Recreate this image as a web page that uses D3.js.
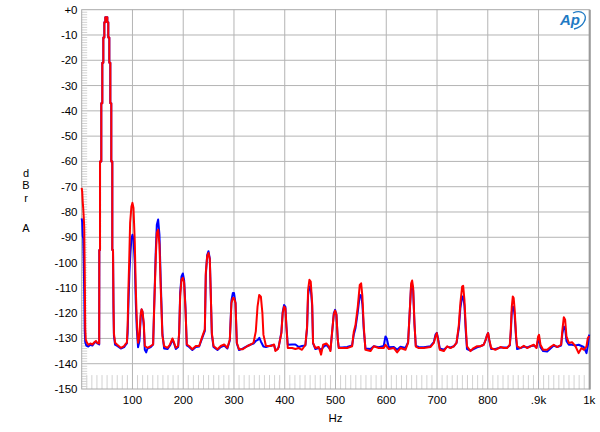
<!DOCTYPE html>
<html>
<head>
<meta charset="utf-8">
<script src="https://cdn.jsdelivr.net/npm/d3@7"></script>
<style>
  body { margin: 0; background: #fff; }
  svg { display: block; font-family: "Liberation Sans", Arial, sans-serif; }
</style>
</head>
<body>
<div id="chart"></div>
<script>
// tick labels
const xTicks = [100, 200, 300, 400, 500, 600, 700, 800, 900, 1000]
const xTickLabels = ["100", "200", "300", "400", "500", "600", "700", "800", ".9k", "1k"]
const yTicks = d3.range(0, -151, -10)
const yTickLabels = yTicks.map(d => d === 0 ? "+0" : String(d))

// red trace (Hz, dBr)
const redHz = [0, 1, 2, 3, 4, 5, 6, 7, 8, 10, 13, 17, 21, 25, 28, 31, 34.5,
  34.7, 34.7, 36.1, 36.1, 38.6, 38.6, 40.6, 40.6, 42.6, 42.6, 44.6, 44.6, 46.5, 46.5,
  50.5, 50.5, 52.4, 52.4, 54.4, 54.4, 56.4, 56.4, 58.3, 58.3, 60.3, 60.3, 61.7,
  62.6, 63.5, 65.8, 70, 77, 83.6, 87, 89, 90.5, 92, 93.5, 95.4, 98, 100, 102, 104.6, 106.6, 108.5,
  111, 113.8, 116.4, 118, 119.7, 122.3, 124.3, 129.6, 136, 140.7, 142.7, 146, 148, 150.6, 153.2,
  155.8, 159, 162.4, 169, 174, 178.8, 182, 185.4, 190, 192, 194, 196.6, 199.3, 201.8, 204.5,
  207, 211.7, 218, 224.8, 231.4, 238, 242.6, 244.5, 247.2, 249.8, 252.4, 254.4, 256.4, 259.7,
  267.5, 274, 280.7, 287, 291.8, 295, 297.8, 300, 303, 305.6, 310, 316.8, 326.7, 333, 338.5,
  343, 346.4, 349.7, 353, 356, 358, 363, 372.7, 379, 381.6, 386, 388, 393.4, 396, 398.7, 401.3,
  403.3, 406, 414.5, 421, 427.6, 434, 440.7, 444, 446, 448.6, 451.2, 454, 455.8, 460.4, 467,
  471.6, 475.6, 482, 486.7, 490, 493.3, 496.6, 499.2, 501.8, 504.5, 506.4, 513, 522.9, 532.7,
  536, 539.3, 543.9, 547.8, 550.5, 553, 555.7, 559, 568.9, 575.4, 585.3, 595, 598.4, 605, 615,
  621.4, 628, 637.8, 643, 646.4, 649, 651, 653, 655.6, 658.2, 664, 674, 687, 693.7, 697, 699.6,
  702, 705.5, 713.4, 720, 726.5, 733, 738.4, 743, 746, 749.5, 751.5, 754, 756.6, 759, 766, 772,
  779, 785.5, 792, 796, 798.7, 800.7, 803, 806.6, 815, 825, 831.5, 838, 843.4, 845.3, 847.3,
  849.3, 851, 853, 855.8, 857.8, 864.4, 871, 877.5, 884, 890.7, 895.9, 899.2, 901, 903.8, 909,
  917, 923.5, 930, 936.7, 944.5, 947, 949.8, 952.4, 955, 959.7, 966, 972.8, 979, 984.6, 989,
  994.5, 997, 999.7]
const redDb = [-70.5, -72, -76, -78.5, -82, -86, -104, -126, -130.5, -131.5, -132.5, -132, -132.4, -131.5, -131, -131.8, -132,
  -95, -95, -95, -60, -60, -37, -37, -21, -21, -11, -11, -5, -5, -3,
  -3, -5, -5, -11, -11, -21, -21, -37, -37, -60, -60, -95, -95,
  -116, -128, -131.7, -132.5, -133.7, -133, -132, -131.7, -125, -110.7, -100, -84.3, -77.8, -76.4, -78.4, -92, -110.7, -122.5,
  -131.7, -129, -120, -118.5, -119.2, -123.8, -133, -133.7, -133, -132.4, -118.6, -97.5, -88.3, -87, -92.9,
  -110.7, -129, -133, -133.7, -132.4, -130, -131.7, -133.7, -133, -127.8, -113.3, -106.7, -106, -108, -118.6,
  -132.4, -133, -134.3, -133, -133, -129, -126.4, -104, -97.5, -96.2, -98.8, -113.3, -127.8, -133,
  -134.3, -133, -132.4, -133.7, -130.4, -116, -114, -114, -116, -131.7, -134.3, -134.3, -133, -132.4, -131.7,
  -127.2, -117.4, -112.8, -113.5, -120, -128.5, -133, -133, -132.4, -135, -134.3, -133.3, -127.9, -120, -117.4, -118,
  -125.3, -133.8, -133.8, -134.2, -133.8, -134.5, -132.5, -125.3, -110.8, -106.8, -107.5, -116, -131.8, -133.8, -133.4,
  -136.4, -132.5, -132, -133.1, -135, -127.4, -120.6, -119, -120.6, -130.5, -133.8, -133.8, -133.8, -133.1,
  -127.4, -124.8, -117.4, -108.8, -108.2, -113.4, -125.3, -134.5, -135, -133.1, -133.8, -133.8, -132.5, -134.2, -133.8,
  -135.5, -133.8, -134.5, -131.8, -118.7, -108.2, -107.1, -110, -124, -133.2, -133.8, -133.8, -133.4, -131.8, -129.2, -127.9,
  -130.5, -134.5, -135, -133.1, -133.8, -133.1, -131.8, -124.6, -116, -109.5, -109.2, -114.7, -125.3, -133.1, -135, -133.8,
  -133.1, -133.1, -132.5, -130.5, -128.6, -127.9, -130.5, -133.8, -134.5, -133.4, -133.8, -133.8, -132.5, -126.6, -117.4,
  -113.4, -114, -118.7, -129.2, -133.1, -133.8, -132.9, -133.8, -133.1, -132.5, -133.8, -129.2, -128.6, -132.5, -134.5,
  -134.5, -133.4, -132.5, -133.4, -132.5, -126.6, -121.6, -122.6, -129.2, -131.8, -131.5, -133.1, -135.8, -133.8, -134.5,
  -133.1, -129.9, -129]

// blue trace (Hz, dBr)
const blueHz = [0, 1, 2, 3, 4, 5, 6, 7, 9, 13, 17, 21, 25, 28, 31, 34.5,
  34.7, 34.7, 36.1, 36.1, 38.6, 38.6, 40.6, 40.6, 42.6, 42.6, 44.6, 44.6, 46.5, 46.5,
  50.5, 50.5, 52.4, 52.4, 54.4, 54.4, 56.4, 56.4, 58.3, 58.3, 60.3, 60.3, 61.7,
  62.6, 63.5, 65.8, 70, 77, 83.6, 87, 89, 90.5, 92, 94, 96, 98, 100, 102, 104.6, 106.6, 108.5,
  111, 113.8, 116.4, 118, 119.7, 122.3, 124.3, 127, 129.6, 136, 140.7, 142.7, 146, 148, 150.6, 153.2,
  155.8, 159, 162.4, 169, 174, 178.8, 182, 185.4, 190, 192, 194, 196.6, 199.3, 201.8, 204.5,
  207, 211.7, 218, 224.8, 231.4, 238, 242.6, 244.5, 247.2, 249.8, 252.4, 254.4, 256.4, 259.7,
  267.5, 274, 280.7, 287, 291.8, 295, 297.8, 300, 303, 305.6, 310, 316.8, 326.7, 333, 338.5,
  343, 347, 350, 353, 358, 363, 372.7, 379, 381.6, 386, 388, 393.4, 396, 398.7, 401.3,
  403.3, 406, 414.5, 421, 427.6, 434, 440.7, 444, 446, 448.6, 451.2, 454, 455.8, 460.4, 467,
  471.6, 475.6, 482, 486.7, 490, 493.3, 496.6, 499.2, 501.8, 504.5, 506.4, 513, 522.9, 532.7,
  536, 539.3, 543.9, 547.8, 550.5, 553, 555.7, 559, 568.9, 575.4, 585.3, 595, 598.4, 601, 605, 615,
  621.4, 628, 637.8, 643, 646.4, 649, 651, 653, 655.6, 658.2, 664, 674, 687, 693.7, 697, 699.6,
  702, 705.5, 713.4, 720, 726.5, 733, 738.4, 743, 746, 749.5, 751.5, 754, 756.6, 759, 766, 772,
  779, 785.5, 792, 796, 798.7, 800.7, 803, 806.6, 815, 825, 831.5, 838, 843.4, 845.3, 847.3,
  849.3, 851, 853, 855.8, 857.8, 864.4, 871, 877.5, 884, 890.7, 895.9, 899.2, 901, 903.8, 909,
  917, 923.5, 930, 936.7, 944.5, 947, 949.8, 952.4, 955, 959.7, 966, 972.8, 979, 984.6, 989,
  994.5, 997, 999.7]
const blueDb = [-82.5, -84, -89.5, -90.5, -100, -112, -127, -131.5, -132.8, -133.2, -132.5, -132.8, -131.8, -131.3, -132, -132.4,
  -95, -95, -95, -60, -60, -37, -37, -21, -21, -11, -11, -5, -5, -3,
  -3, -5, -5, -11, -11, -21, -21, -37, -37, -60, -60, -95, -95,
  -118, -129, -132.5, -133, -134, -133.4, -132.5, -132, -128, -117, -104, -96.2, -90.5, -89, -90.8, -100, -116, -126,
  -133.5, -131, -121, -118.6, -119.5, -125, -134.5, -135.5, -134, -133.4, -132.4, -118, -95, -85, -83, -89,
  -108, -128, -134, -134.2, -132.8, -130.5, -132, -134.2, -133.4, -128, -112, -105.5, -104.3, -107, -118,
  -132.8, -133.4, -134.6, -133.4, -133.2, -129.5, -127, -105, -97, -95.5, -98.5, -113.5, -128.5, -133.4,
  -134.6, -133.4, -132.8, -134, -130.8, -115, -112, -112, -116, -132, -134.6, -134, -133, -132.4, -132,
  -131, -130.6, -129.8, -131.2, -133.2, -133.4, -132.8, -132.6, -134.6, -134.2, -133.5, -127.5, -119.5, -116.8, -117.5,
  -125.3, -132.5, -132.4, -132.4, -133.4, -133, -132.8, -126, -113, -109.5, -110, -117, -132, -134.2, -133.8,
  -134.5, -133.5, -132.5, -133.6, -134.5, -127.8, -120.2, -118.7, -120.6, -130.5, -133.5, -133.6, -133.4, -132.8,
  -128.5, -126, -119.5, -112.8, -113, -116.5, -126.5, -134, -134.2, -133.1, -133.5, -133, -129.2, -130, -133.5, -133.4,
  -134.5, -133.3, -133.8, -131.5, -119, -109, -108.8, -111, -124.5, -133, -133.4, -133.5, -133.1, -131.5, -128.5, -127.8,
  -130, -134, -134.5, -133.3, -133.6, -133.1, -131.8, -126, -118, -113.4, -113.4, -117, -127, -134.2, -134.8, -134.2,
  -133.5, -133.1, -132.5, -130.5, -128.6, -127.9, -130.8, -134.2, -134.2, -133.6, -133.6, -133.6, -132.8, -128, -119.5,
  -117.4, -118, -121, -130, -134.2, -133.8, -133.2, -133.6, -133.1, -132.8, -133.6, -130.5, -130.2, -133.5, -135,
  -135.2, -134, -132.8, -133.4, -132.8, -128, -125.3, -126, -131, -132.5, -132.5, -132.8, -132.5, -133, -133.4,
  -135.8, -133, -128.5]

const width = 600, height = 432
const plot = {left: 81.7, right: 589.3, top: 9.7, bottom: 389}

const svg = d3.select("#chart").append("svg")
    .attr("width", width)
    .attr("height", height)

const x = d3.scaleLinear().domain([0, 1000]).range([plot.left, plot.right])
const y = d3.scaleLinear().domain([-150, 0]).range([plot.bottom, plot.top])

// minor ticks, left side every 1 dB
svg.append("g")
    .selectAll("line")
    .data(d3.range(-149, 0, 1).filter(d => d % 10 !== 0))
    .join("line")
    .attr("x1", plot.left).attr("x2", plot.left + 5.5)
    .attr("y1", d => y(d)).attr("y2", d => y(d))
    .attr("stroke", "#d2d2d2").attr("stroke-width", 1)

// minor ticks, bottom every 10 Hz
svg.append("g")
    .selectAll("line")
    .data(d3.range(10, 1000, 10).filter(d => d % 100 !== 0))
    .join("line")
    .attr("x1", d => x(d)).attr("x2", d => x(d))
    .attr("y1", y(-144.5)).attr("y2", plot.bottom)
    .attr("stroke", "#d2d2d2").attr("stroke-width", 1)

// grid
svg.append("g")
    .selectAll("line")
    .data(yTicks.filter(d => d !== 0 && d !== -150))
    .join("line")
    .attr("x1", plot.left).attr("x2", plot.right)
    .attr("y1", d => y(d)).attr("y2", d => y(d))
    .attr("stroke", "#b4b4b4").attr("stroke-width", 1)

svg.append("g")
    .selectAll("line")
    .data(xTicks.filter(d => d < 1000))
    .join("line")
    .attr("x1", d => x(d)).attr("x2", d => x(d))
    .attr("y1", plot.top).attr("y2", plot.bottom)
    .attr("stroke", "#b4b4b4").attr("stroke-width", 1)

// frame
svg.append("rect")
    .attr("x", plot.left).attr("y", plot.top)
    .attr("width", plot.right - plot.left).attr("height", plot.bottom - plot.top)
    .attr("fill", "none").attr("stroke", "#a8a8a8").attr("stroke-width", 1)
svg.append("line")
    .attr("x1", plot.right + 0.5).attr("x2", plot.right + 0.5)
    .attr("y1", plot.top).attr("y2", plot.bottom + 0.5)
    .attr("stroke", "#9a9a9a").attr("stroke-width", 2)

// axis labels
svg.append("g")
    .selectAll("text")
    .data(yTicks)
    .join("text")
    .attr("x", 77.5)
    .attr("y", d => y(d) + 4)
    .attr("text-anchor", "end")
    .attr("font-size", 11.5)
    .text((d, i) => yTickLabels[i])

svg.append("g")
    .selectAll("text")
    .data(xTicks)
    .join("text")
    .attr("x", d => x(d))
    .attr("y", 403.5)
    .attr("text-anchor", "middle")
    .attr("font-size", 11.5)
    .text((d, i) => xTickLabels[i])

svg.append("text")
    .attr("x", 335.5).attr("y", 421.5)
    .attr("text-anchor", "middle")
    .attr("font-size", 11.5)
    .text("Hz")

const yTitle = [["d", 176.7], ["B", 189], ["r", 201.7], ["A", 231.7]]
svg.append("g")
    .selectAll("text")
    .data(yTitle)
    .join("text")
    .attr("x", 26).attr("y", d => d[1])
    .attr("text-anchor", "middle")
    .attr("font-size", 11)
    .text(d => d[0])

// traces
const line = d3.line()
    .x(d => x(d[0]))
    .y(d => y(d[1]))

svg.append("path")
    .datum(d3.zip(blueHz, blueDb))
    .attr("d", line)
    .attr("fill", "none")
    .attr("stroke", "#0000ff")
    .attr("stroke-width", 2)
    .attr("stroke-linejoin", "round")

svg.append("path")
    .datum(d3.zip(redHz, redDb))
    .attr("d", line)
    .attr("fill", "none")
    .attr("stroke", "#ff0000")
    .attr("stroke-width", 2)
    .attr("stroke-linejoin", "round")

// Ap logo
const logo = svg.append("g").attr("transform", "translate(560,25)")
logo.append("text")
    .attr("x", 0).attr("y", 0)
    .attr("font-size", 15)
    .attr("font-style", "italic")
    .attr("font-weight", "bold")
    .attr("fill", "#1f7ac4")
    .text("Ap")
logo.append("path")
    .attr("d", "M13,-12 C22,-16 28,-10 24,-3 C22,1 18,3 14,4")
    .attr("fill", "none")
    .attr("stroke", "#1f7ac4")
    .attr("stroke-width", 1.3)
</script>
</body>
</html>
